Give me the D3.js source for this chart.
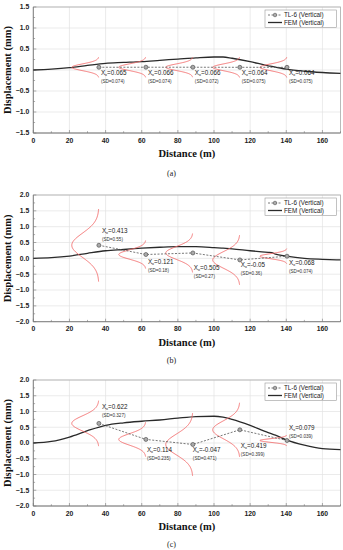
<!DOCTYPE html>
<html><head><meta charset="utf-8">
<script src="https://cdn.jsdelivr.net/npm/d3@7"></script>
<style>body{margin:0;background:#fff}svg{display:block}</style>
</head><body>
<svg id="c" width="343" height="550"></svg>
<script>
// ---- data ----
const stations = [36.3, 62.3, 88.3, 114.3, 140.4];
const femX = [0,10,20,30,40,50,60,70,80,90,100,105,110,120,130,132,134,140,150,160,170];
const femA = [0,0.02,0.055,0.11,0.16,0.18,0.2,0.23,0.26,0.29,0.31,0.31,0.28,0.2,0.1,0.085,0.07,0.02,-0.03,-0.06,-0.08];
const femB = [0,0.02,0.07,0.16,0.24,0.28,0.32,0.35,0.37,0.37,0.34,0.32,0.3,0.24,0.19,0.18,0.13,0.07,0,-0.03,-0.05];
const femC = [0,0.05,0.19,0.39,0.56,0.64,0.69,0.73,0.79,0.84,0.85,0.82,0.75,0.56,0.33,0.29,0.25,0.1,-0.07,-0.18,-0.21];
const tlA = [0.065,0.066,0.066,0.064,0.064];
const tlB = [0.413,0.121,0.17,-0.05,0.068];
const tlC = [0.622,0.114,-0.047,0.419,0.079];
const meanLabelA = ["0.065","0.066","0.066","0.064","0.064"];
const meanLabelB = ["0.413","0.121","0.505","-0.05","0.068"];
const meanLabelC = ["0.622","0.114","-0.047","0.419","0.079"];
const sdA = [0.074,0.074,0.072,0.075,0.075];
const sdB = [0.55,0.18,0.27,0.36,0.074];
const sdC = [0.327,0.235,0.471,0.399,0.039];
const sdLabelA = ["0.074","0.074","0.072","0.075","0.075"];
const sdLabelB = ["0.55","0.18","0.27","0.36","0.074"];
const sdLabelC = ["0.327","0.235","0.471","0.399","0.039"];
const xTicks = [0,20,40,60,80,100,120,140,160];
const yTicksA = [-1.5,-1.0,-0.5,0.0,0.5,1.0,1.5];
const yTicksBC = [-2.0,-1.5,-1.0,-0.5,0.0,0.5,1.0,1.5,2.0];
const captions = ["(a)","(b)","(c)"];
const legendLabels = ["TL-6 (Vertical)","FEM (Vertical)"];

// ---- layout ----
const panels = [
  {top:7, bottom:133, yDom:[-1.5,1.5], yTicks:yTicksA, fem:femA, tl:tlA, sd:sdA, ml:meanLabelA, sl:sdLabelA, cap:captions[0],
   lab:[[2,8],[2,8],[2,8],[2,8],[2,8]], capY:176},
  {top:195, bottom:321.7, yDom:[-2,2], yTicks:yTicksBC, fem:femB, tl:tlB, sd:sdB, ml:meanLabelB, sl:sdLabelB, cap:captions[1],
   lab:[[3,-12],[2,9],[1,17],[1,7],[2,9]], capY:363},
  {top:380, bottom:506, yDom:[-2,2], yTicks:yTicksBC, fem:femC, tl:tlC, sd:sdC, ml:meanLabelC, sl:sdLabelC, cap:captions[2],
   lab:[[3,-14],[1,13],[0,8],[1,18],[2,-11]], capY:547}
];
const L = 33.3, R = 340.5;
const svg = d3.select("#c");
const x = d3.scaleLinear().domain([0,170]).range([L,R]);
const sans = "'Liberation Sans', Arial, sans-serif";
const serif = "'Liberation Serif', 'Times New Roman', serif";

panels.forEach(p => {
  const y = d3.scaleLinear().domain(p.yDom).range([p.bottom, p.top]);
  const g = svg.append("g");
  // grid
  g.selectAll(".gx").data(xTicks.filter(t=>t>0)).join("line")
    .attr("x1",d=>x(d)).attr("x2",d=>x(d)).attr("y1",p.top).attr("y2",p.bottom)
    .attr("stroke","#e2e2e2").attr("stroke-width",0.7);
  g.selectAll(".gy").data(p.yTicks).join("line")
    .attr("x1",L).attr("x2",R).attr("y1",d=>y(d)).attr("y2",d=>y(d))
    .attr("stroke","#e2e2e2").attr("stroke-width",0.7);
  // frame
  g.append("rect").attr("x",L).attr("y",p.top).attr("width",R-L).attr("height",p.bottom-p.top)
    .attr("fill","none").attr("stroke","#aaa").attr("stroke-width",0.8);
  g.append("line").attr("x1",L).attr("x2",L).attr("y1",p.top).attr("y2",p.bottom).attr("stroke","#777").attr("stroke-width",0.8);
  g.append("line").attr("x1",L).attr("x2",R).attr("y1",p.bottom).attr("y2",p.bottom).attr("stroke","#777").attr("stroke-width",0.8);
  // minor & major ticks (inside)
  const yMinor = d3.range(p.yDom[0], p.yDom[1]+0.001, 0.25);
  g.selectAll(".ty").data(yMinor).join("line")
    .attr("x1",L).attr("x2",(d,i)=>L+(i%2===0?3:1.8)).attr("y1",d=>y(d)).attr("y2",d=>y(d))
    .attr("stroke","#777").attr("stroke-width",0.6);
  const xMinor = d3.range(0,171,10);
  g.selectAll(".tx").data(xMinor).join("line")
    .attr("x1",d=>x(d)).attr("x2",d=>x(d)).attr("y1",p.bottom).attr("y2",(d,i)=>p.bottom-(i%2===0?3:1.8))
    .attr("stroke","#777").attr("stroke-width",0.6);
  // tick labels
  g.selectAll(".yl").data(p.yTicks).join("text")
    .attr("x",L-4).attr("y",d=>y(d)).attr("dy","0.35em").attr("text-anchor","end")
    .attr("font-family",sans).attr("font-weight","bold").attr("font-size",6.8).attr("fill","#222")
    .text(d=>d3.format(".1f")(d));
  g.selectAll(".xl").data(xTicks).join("text")
    .attr("x",d=>x(d)).attr("y",p.bottom+9.5).attr("text-anchor","middle")
    .attr("font-family",sans).attr("font-weight","bold").attr("font-size",6.8).attr("fill","#222")
    .text(d=>d);
  // axis titles
  g.append("text").attr("x",(L+R)/2).attr("y",p.bottom+24).attr("text-anchor","middle")
    .attr("font-family",serif).attr("font-weight","bold").attr("font-size",10.5).attr("fill","#111")
    .text("Distance (m)");
  g.append("text").attr("transform",`translate(10.5,${(p.top+p.bottom)/2}) rotate(-90)`).attr("text-anchor","middle")
    .attr("font-family",serif).attr("font-weight","bold").attr("font-size",10.5).attr("fill","#111")
    .text("Displacement (mm)");
  g.append("text").attr("x",171.5).attr("y",p.capY).attr("text-anchor","middle")
    .attr("font-family",serif).attr("font-size",8).attr("fill","#222").text(p.cap);

  // FEM line
  const femData = femX.map((d,i)=>[d,p.fem[i]]);
  g.append("path").datum(femData)
    .attr("d", d3.line().x(d=>x(d[0])).y(d=>y(d[1])).curve(d3.curveMonotoneX))
    .attr("fill","none").attr("stroke","#2a2a2a").attr("stroke-width",1.3);

  // bell curves
  stations.forEach((s,i)=>{
    const m = p.tl[i], sd = p.sd[i];
    const half = 1.9*sd + 0.1, sig = half/3;
    const pts = d3.range(0,101).map(k=>{
      const yy = m - half + 2*half*k/100;
      const dd = 15*Math.exp(-0.5*Math.pow((yy-m)/sig,2));
      return [s-dd, yy];
    });
    g.append("path").datum(pts)
      .attr("d", d3.line().x(d=>x(d[0])).y(d=>y(d[1])))
      .attr("fill","none").attr("stroke","#f26b6b").attr("stroke-width",0.9);
  });

  // TL-6 dashed line + markers
  const tlData = stations.map((s,i)=>[s,p.tl[i]]);
  g.append("path").datum(tlData)
    .attr("d", d3.line().x(d=>x(d[0])).y(d=>y(d[1])))
    .attr("fill","none").attr("stroke","#555").attr("stroke-width",0.8).attr("stroke-dasharray","2,1.5");
  g.selectAll(".pt").data(tlData).join("circle")
    .attr("cx",d=>x(d[0])).attr("cy",d=>y(d[1])).attr("r",2)
    .attr("fill","#aaa").attr("stroke","#555").attr("stroke-width",0.7);

  // labels
  stations.forEach((s,i)=>{
    const px = x(s)+p.lab[i][0], py = y(p.tl[i])+p.lab[i][1];
    const t = g.append("text").attr("x",px).attr("y",py)
      .attr("font-family",sans).attr("font-size",6.3).attr("fill","#222");
    t.append("tspan").text("X");
    t.append("tspan").attr("font-size",3.5).attr("dy",1).text("o");
    t.append("tspan").attr("dy",-1).text("=" + p.ml[i]);
    g.append("text").attr("x",px).attr("y",py+8)
      .attr("font-family",sans).attr("font-size",4.6).attr("fill","#333")
      .text("(SD=" + p.sl[i] + ")");
  });

  // legend
  const lx = 265, ly = p.top + 3;
  g.append("rect").attr("x",lx).attr("y",ly).attr("width",71.5).attr("height",17.5)
    .attr("fill","#fff").attr("stroke","#999").attr("stroke-width",0.6);
  g.append("line").attr("x1",lx+3).attr("x2",lx+17).attr("y1",ly+5).attr("y2",ly+5)
    .attr("stroke","#555").attr("stroke-width",0.8).attr("stroke-dasharray","2,1.5");
  g.append("circle").attr("cx",lx+10).attr("cy",ly+5).attr("r",1.8)
    .attr("fill","#aaa").attr("stroke","#555").attr("stroke-width",0.6);
  g.append("line").attr("x1",lx+3).attr("x2",lx+17).attr("y1",ly+12.5).attr("y2",ly+12.5)
    .attr("stroke","#2a2a2a").attr("stroke-width",1.3);
  g.selectAll(".lg").data(legendLabels).join("text")
    .attr("x",lx+19).attr("y",(d,i)=>ly+5+i*7.5).attr("dy","0.35em")
    .attr("font-family",sans).attr("font-size",6.3).attr("fill","#222").text(d=>d);
});
</script>
</body></html>
